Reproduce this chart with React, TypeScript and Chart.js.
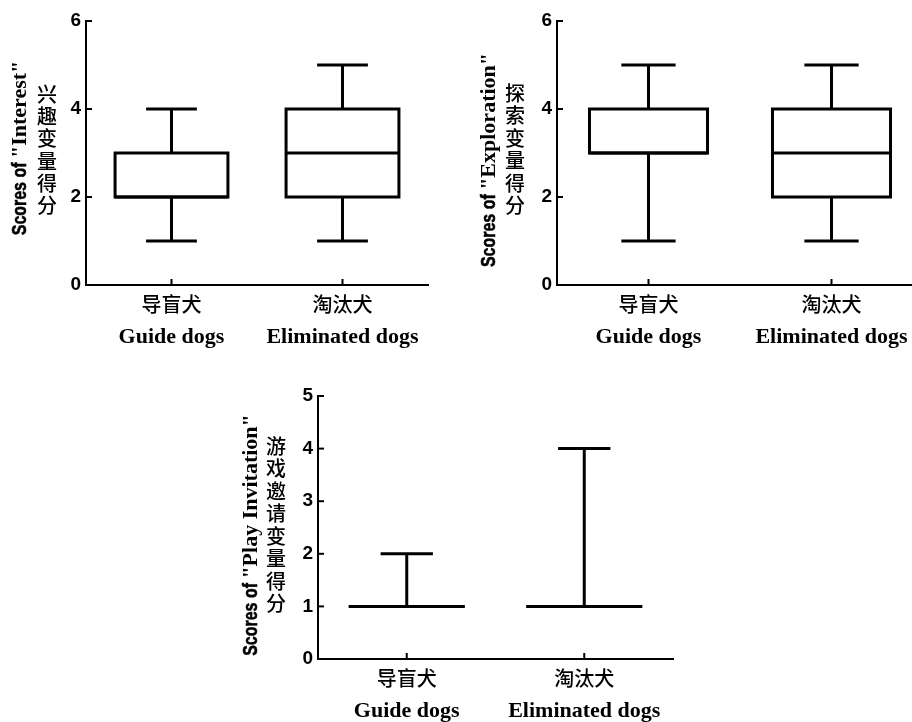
import React, { useEffect, useRef } from "react";
import { Chart, registerables } from "chart.js";

Chart.register(...registerables);

// ---- data ----
const categoriesZh = ["导盲犬", "淘汰犬"];
const categoriesEn = ["Guide dogs", "Eliminated dogs"];

const interestMin = [1, 1];
const interestQ1 = [2, 2];
const interestMedian = [2, 3];
const interestQ3 = [3, 4];
const interestMax = [4, 5];

const explorationMin = [1, 1];
const explorationQ1 = [3, 2];
const explorationMedian = [3, 3];
const explorationQ3 = [4, 4];
const explorationMax = [5, 5];

const playMin = [1, 1];
const playQ1 = [1, 1];
const playMedian = [1, 1];
const playQ3 = [1, 1];
const playMax = [2, 4];

const interestYMax = 6;
const interestYStep = 2;
const explorationYMax = 6;
const explorationYStep = 2;
const playYMax = 5;
const playYStep = 1;

type Area = { left: number; top: number; right: number; bottom: number };

type BoxChartProps = {
  left: number;
  top: number;
  width: number;
  height: number;
  area: Area;
  mins: number[];
  q1s: number[];
  medians: number[];
  q3s: number[];
  maxs: number[];
  yMax: number;
  yStep: number;
  titlePrefix: string;
  titleEn: string;
  titleZh: string;
  titleEnX: number;
  titleEnY: number;
  titleZhX: number;
  titleZhTop: number;
  titleZhStep: number;
  boxPct: number;
  capRatio: number;
};

function BoxChart(p: BoxChartProps) {
  const ref = useRef<HTMLCanvasElement | null>(null);

  useEffect(() => {
    if (!ref.current) return;
    const line = (ctx: CanvasRenderingContext2D, x1: number, y1: number, x2: number, y2: number) => {
      ctx.beginPath();
      ctx.moveTo(x1, y1);
      ctx.lineTo(x2, y2);
      ctx.stroke();
    };

    const boxPlugin = {
      id: "boxExtras",
      afterDatasetsDraw(chart: any) {
        const ctx: CanvasRenderingContext2D = chart.ctx;
        const y = chart.scales.y;
        const meta = chart.getDatasetMeta(0);
        ctx.save();
        ctx.strokeStyle = "#000";
        ctx.lineWidth = 3;
        ctx.lineCap = "butt";
        meta.data.forEach((el: any, i: number) => {
          const props = el.getProps(["x", "width"], true);
          const cx = props.x;
          const w = props.width;
          const yMin = y.getPixelForValue(p.mins[i]);
          const yQ1 = y.getPixelForValue(p.q1s[i]);
          const yMed = y.getPixelForValue(p.medians[i]);
          const yQ3 = y.getPixelForValue(p.q3s[i]);
          const yMaxP = y.getPixelForValue(p.maxs[i]);
          if (p.q3s[i] > p.q1s[i]) {
            ctx.strokeRect(cx - w / 2, yQ3, w, yQ1 - yQ3);
          }
          line(ctx, cx - w / 2, yMed, cx + w / 2, yMed);
          const capW = w * p.capRatio;
          if (p.maxs[i] > p.q3s[i]) {
            line(ctx, cx, yQ3, cx, yMaxP);
            line(ctx, cx - capW / 2, yMaxP, cx + capW / 2, yMaxP);
          }
          if (p.mins[i] < p.q1s[i]) {
            line(ctx, cx, yQ1, cx, yMin);
            line(ctx, cx - capW / 2, yMin, cx + capW / 2, yMin);
          }
        });
        ctx.restore();
      },
      afterDraw(chart: any) {
        const ctx: CanvasRenderingContext2D = chart.ctx;
        const x = chart.scales.x;
        const y = chart.scales.y;
        const ca = chart.chartArea;
        ctx.save();
        ctx.strokeStyle = "#000";
        ctx.fillStyle = "#000";
        ctx.lineWidth = 2;
        // inward tick marks
        y.ticks.forEach((_t: any, idx: number) => {
          const py = y.getPixelForTick(idx);
          line(ctx, ca.left, py, ca.left + 6, py);
        });
        categoriesZh.forEach((_c, i) => {
          const px = x.getPixelForValue(i);
          line(ctx, px, ca.bottom, px, ca.bottom - 6);
        });
        // category labels
        ctx.textAlign = "center";
        ctx.textBaseline = "middle";
        categoriesZh.forEach((zh, i) => {
          const px = x.getPixelForValue(i);
          ctx.font = '500 20px "Noto Sans CJK SC"';
          ctx.fillText(zh, px, ca.bottom + 19);
          ctx.font = 'bold 22px "Liberation Serif"';
          ctx.fillText(categoriesEn[i], px, ca.bottom + 52);
        });
        // y title: condensed sans prefix + serif quoted name
        ctx.save();
        ctx.translate(p.titleEnX, p.titleEnY);
        ctx.rotate(-Math.PI / 2);
        ctx.textAlign = "left";
        const prefixScale = 0.76;
        const prefixFont = 'bold 21px "Liberation Sans"';
        const nameFont = 'bold 22px "Liberation Serif"';
        ctx.font = prefixFont;
        const wPrefix = ctx.measureText(p.titlePrefix).width * prefixScale;
        ctx.font = nameFont;
        const wName = ctx.measureText(p.titleEn).width;
        const start = -(wPrefix + wName) / 2;
        ctx.save();
        ctx.translate(start, 0);
        ctx.scale(prefixScale, 1);
        ctx.font = prefixFont;
        ctx.lineWidth = 0.6;
        ctx.fillText(p.titlePrefix, 0, 0);
        ctx.strokeText(p.titlePrefix, 0, 0);
        ctx.restore();
        ctx.font = nameFont;
        ctx.fillText(p.titleEn, start + wPrefix, 0);
        ctx.restore();
        ctx.textAlign = "center";
        ctx.font = '500 20px "Noto Sans CJK SC"';
        Array.from(p.titleZh).forEach((ch, k) => {
          ctx.fillText(ch, p.titleZhX, p.titleZhTop + p.titleZhStep * (k + 0.5));
        });
        ctx.restore();
      },
    };

    const chart = new Chart(ref.current, {
      type: "bar",
      data: {
        labels: categoriesZh,
        datasets: [
          {
            data: p.q1s.map((q, i) => [q, p.q3s[i]]) as any,
            backgroundColor: "#ffffff",
            borderWidth: 0,
            categoryPercentage: 1,
            barPercentage: p.boxPct,
          },
        ],
      },
      options: {
        responsive: false,
        animation: false,
        layout: {
          padding: { left: 0, top: p.area.top, right: p.width - p.area.right, bottom: 0 },
        },
        plugins: { legend: { display: false }, tooltip: { enabled: false } },
        scales: {
          x: {
            type: "category",
            offset: true,
            grid: { display: false, drawTicks: false },
            border: { display: true, color: "#000", width: 2 },
            ticks: { display: false },
            afterFit: (s: any) => {
              s.height = p.height - p.area.bottom;
            },
          },
          y: {
            min: 0,
            max: p.yMax,
            grid: { display: false, drawTicks: false },
            border: { display: true, color: "#000", width: 2 },
            ticks: {
              stepSize: p.yStep,
              color: "#000",
              padding: 5,
              font: { family: '"Liberation Sans", Arial, sans-serif', weight: "bold", size: 19 },
            },
            afterFit: (s: any) => {
              s.width = p.area.left;
            },
          },
        },
      },
      plugins: [boxPlugin],
    });
    return () => chart.destroy();
  }, []);

  return (
    <canvas
      ref={ref}
      width={p.width}
      height={p.height}
      style={{ position: "absolute", left: p.left, top: p.top, width: p.width, height: p.height, display: "block" }}
    />
  );
}

export default function App() {
  return (
    <div
      style={{
        position: "fixed",
        left: 0,
        top: 0,
        width: 912,
        height: 722,
        background: "#fff",
        overflow: "hidden",
      }}
    >
      <BoxChart
        left={0}
        top={0}
        width={456}
        height={361}
        area={{ left: 86, top: 21, right: 428, bottom: 285 }}
        mins={interestMin}
        q1s={interestQ1}
        medians={interestMedian}
        q3s={interestQ3}
        maxs={interestMax}
        yMax={interestYMax}
        yStep={interestYStep}
        titlePrefix="Scores of "
        titleEn={'"Interest"'}
        titleZh="兴趣变量得分"
        titleEnX={20}
        titleEnY={148}
        titleZhX={47}
        titleZhTop={83}
        titleZhStep={22.3}
        boxPct={0.66}
        capRatio={0.45}
      />
      <BoxChart
        left={456}
        top={0}
        width={470}
        height={361}
        area={{ left: 101, top: 21, right: 467, bottom: 285 }}
        mins={explorationMin}
        q1s={explorationQ1}
        medians={explorationMedian}
        q3s={explorationQ3}
        maxs={explorationMax}
        yMax={explorationYMax}
        yStep={explorationYStep}
        titlePrefix="Scores of "
        titleEn={'"Exploration"'}
        titleZh="探索变量得分"
        titleEnX={33}
        titleEnY={160}
        titleZhX={59}
        titleZhTop={82}
        titleZhStep={22.5}
        boxPct={0.645}
        capRatio={0.46}
      />
      <BoxChart
        left={230}
        top={361}
        width={456}
        height={361}
        area={{ left: 88, top: 35, right: 443, bottom: 298 }}
        mins={playMin}
        q1s={playQ1}
        medians={playMedian}
        q3s={playQ3}
        maxs={playMax}
        yMax={playYMax}
        yStep={playYStep}
        titlePrefix="Scores of "
        titleEn={'"Play Invitation"'}
        titleZh="游戏邀请变量得分"
        titleEnX={21}
        titleEnY={174}
        titleZhX={46}
        titleZhTop={74}
        titleZhStep={22.5}
        boxPct={0.655}
        capRatio={0.45}
      />
    </div>
  );
}
